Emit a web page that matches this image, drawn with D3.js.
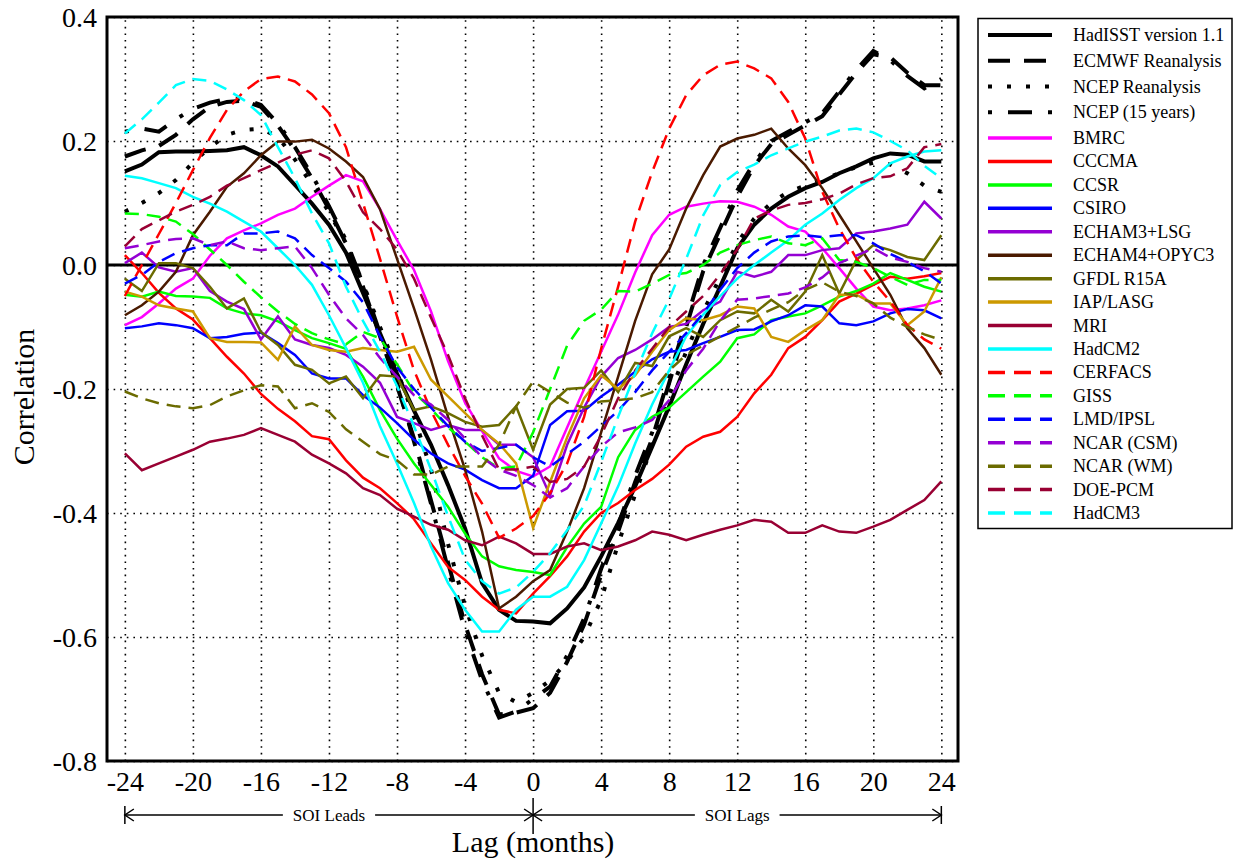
<!DOCTYPE html>
<html>
<head>
<meta charset="utf-8">
<script src="https://cdn.jsdelivr.net/npm/d3@7"></script>
<style>
  body { margin: 0; background: #fff; }
  svg text { font-family: "Liberation Serif", "Times New Roman", serif; fill: #000; }
</style>
</head>
<body>
<div id="chart"></div>
<script>
// lag in months, -24 .. 24
const lags = [-24,-23,-22,-21,-20,-19,-18,-17,-16,-15,-14,-13,-12,-11,-10,-9,-8,-7,-6,-5,-4,-3,-2,-1,0,
  1,2,3,4,5,6,7,8,9,10,11,12,13,14,15,16,17,18,19,20,21,22,23,24];

const xTicks = [-24,-20,-16,-12,-8,-4,0,4,8,12,16,20,24];
const yTicks = [-0.8,-0.6,-0.4,-0.2,0,0.2,0.4];

// observations
const hadisst = [0.151,0.162,0.182,0.183,0.183,0.184,0.185,0.190,0.177,0.159,0.129,0.099,0.065,0.020,-0.045,-0.110,-0.175,-0.235,-0.290,-0.355,-0.425,-0.513,-0.556,-0.574,-0.575,
  -0.578,-0.554,-0.520,-0.470,-0.416,-0.357,-0.293,-0.228,-0.160,-0.095,-0.035,0.027,0.065,0.091,0.110,0.124,0.134,0.148,0.159,0.172,0.180,0.178,0.167,0.167];
const ecmwf = [0.175,0.185,0.192,0.210,0.235,0.255,0.263,0.265,0.255,0.225,0.185,0.140,0.090,0.035,-0.035,-0.115,-0.195,-0.280,-0.380,-0.480,-0.580,-0.660,-0.725,-0.722,-0.715,
  -0.690,-0.640,-0.580,-0.500,-0.430,-0.350,-0.280,-0.190,-0.100,-0.010,0.050,0.110,0.160,0.195,0.210,0.225,0.240,0.275,0.310,0.340,0.335,0.310,0.290,0.290];
const ncep = [0.086,0.100,0.116,0.137,0.165,0.190,0.210,0.218,0.220,0.207,0.170,0.130,0.085,0.035,-0.030,-0.100,-0.170,-0.245,-0.330,-0.450,-0.550,-0.630,-0.690,-0.705,-0.690,
  -0.670,-0.640,-0.600,-0.540,-0.450,-0.370,-0.290,-0.210,-0.140,-0.075,-0.020,0.035,0.075,0.100,0.118,0.128,0.138,0.148,0.158,0.165,0.162,0.148,0.128,0.118];
const ncep15 = [0.215,0.220,0.215,0.235,0.252,0.262,0.268,0.268,0.258,0.228,0.190,0.145,0.095,0.040,-0.030,-0.110,-0.190,-0.285,-0.385,-0.490,-0.590,-0.670,-0.730,-0.720,-0.700,
  -0.680,-0.630,-0.570,-0.490,-0.420,-0.340,-0.270,-0.180,-0.090,0.000,0.060,0.120,0.165,0.200,0.215,0.230,0.245,0.280,0.315,0.345,0.330,0.305,0.285,0.300];

// models, solid
const bmrc = [-0.097,-0.084,-0.062,-0.038,-0.022,0.015,0.043,0.056,0.067,0.081,0.091,0.110,0.128,0.145,0.135,0.090,0.040,-0.008,-0.075,-0.155,-0.222,-0.268,-0.312,-0.332,-0.341,
  -0.325,-0.262,-0.200,-0.140,-0.080,-0.012,0.048,0.081,0.094,0.099,0.103,0.102,0.094,0.081,0.062,0.054,0.027,-0.005,-0.038,-0.067,-0.073,-0.070,-0.065,-0.057];
const cccma = [0.016,-0.013,-0.045,-0.070,-0.088,-0.118,-0.148,-0.175,-0.208,-0.232,-0.252,-0.276,-0.281,-0.315,-0.343,-0.360,-0.384,-0.410,-0.449,-0.487,-0.508,-0.535,-0.556,-0.562,-0.530,
  -0.502,-0.470,-0.430,-0.400,-0.384,-0.363,-0.345,-0.322,-0.293,-0.277,-0.269,-0.245,-0.207,-0.177,-0.134,-0.116,-0.089,-0.059,-0.046,-0.032,-0.019,-0.022,-0.018,-0.013];
const ccsr = [-0.048,-0.051,-0.043,-0.050,-0.051,-0.053,-0.070,-0.078,-0.081,-0.091,-0.105,-0.118,-0.126,-0.135,-0.180,-0.234,-0.280,-0.320,-0.355,-0.390,-0.433,-0.470,-0.486,-0.492,-0.495,
  -0.500,-0.455,-0.417,-0.390,-0.310,-0.266,-0.245,-0.230,-0.205,-0.180,-0.156,-0.118,-0.112,-0.089,-0.083,-0.078,-0.065,-0.051,-0.042,-0.030,-0.013,-0.024,-0.035,-0.043];
const csiro = [-0.102,-0.099,-0.094,-0.097,-0.102,-0.118,-0.116,-0.111,-0.109,-0.126,-0.145,-0.175,-0.183,-0.183,-0.210,-0.230,-0.255,-0.282,-0.304,-0.320,-0.330,-0.347,-0.360,-0.360,-0.340,
  -0.258,-0.236,-0.235,-0.212,-0.193,-0.172,-0.152,-0.140,-0.137,-0.126,-0.116,-0.105,-0.104,-0.091,-0.081,-0.065,-0.067,-0.094,-0.097,-0.091,-0.078,-0.071,-0.073,-0.086];
const echam3 = [0.003,0.020,-0.004,-0.011,-0.005,-0.042,-0.059,-0.071,-0.120,-0.083,-0.120,-0.129,-0.134,-0.145,-0.164,-0.190,-0.245,-0.255,-0.266,-0.258,-0.266,-0.266,-0.290,-0.290,-0.310,
  -0.372,-0.290,-0.230,-0.180,-0.150,-0.137,-0.120,-0.100,-0.095,-0.073,-0.059,-0.011,-0.019,-0.011,0.016,0.016,0.024,0.027,0.051,0.054,0.059,0.065,0.102,0.075];
const echam4 = [-0.081,-0.065,-0.043,-0.011,0.048,0.086,0.126,0.148,0.177,0.199,0.199,0.202,0.188,0.167,0.142,0.090,0.010,-0.070,-0.153,-0.245,-0.330,-0.430,-0.554,-0.535,-0.510,
  -0.492,-0.430,-0.360,-0.270,-0.180,-0.090,-0.015,0.025,0.091,0.145,0.191,0.204,0.210,0.220,0.188,0.161,0.124,0.081,0.038,-0.005,-0.048,-0.102,-0.134,-0.177];
const gfdl = [-0.022,-0.042,0.003,0.003,-0.005,-0.035,-0.070,-0.054,-0.108,-0.129,-0.161,-0.169,-0.191,-0.180,-0.215,-0.178,-0.180,-0.234,-0.228,-0.239,-0.253,-0.261,-0.258,-0.228,-0.298,
  -0.225,-0.200,-0.198,-0.170,-0.205,-0.158,-0.163,-0.115,-0.102,-0.116,-0.089,-0.075,-0.078,-0.056,-0.075,-0.043,0.016,-0.046,0.008,0.032,0.024,0.013,0.008,0.048];
const iap = [-0.043,-0.051,-0.065,-0.070,-0.075,-0.118,-0.124,-0.124,-0.125,-0.153,-0.099,-0.129,-0.137,-0.140,-0.134,-0.137,-0.140,-0.132,-0.185,-0.212,-0.239,-0.266,-0.288,-0.320,-0.424,
  -0.350,-0.278,-0.215,-0.178,-0.200,-0.178,-0.140,-0.105,-0.086,-0.089,-0.081,-0.067,-0.070,-0.116,-0.124,-0.105,-0.089,-0.048,-0.048,-0.062,-0.062,-0.097,-0.075,-0.020];
const mri = [-0.304,-0.331,-0.320,-0.309,-0.298,-0.285,-0.280,-0.274,-0.263,-0.274,-0.285,-0.306,-0.320,-0.336,-0.360,-0.371,-0.393,-0.406,-0.419,-0.427,-0.444,-0.452,-0.438,-0.449,-0.466,
  -0.466,-0.454,-0.449,-0.460,-0.454,-0.444,-0.430,-0.435,-0.444,-0.435,-0.427,-0.420,-0.411,-0.414,-0.432,-0.432,-0.420,-0.430,-0.432,-0.422,-0.411,-0.395,-0.379,-0.349];
const hadcm2 = [0.144,0.140,0.132,0.124,0.110,0.099,0.086,0.070,0.054,0.027,0.000,-0.032,-0.081,-0.134,-0.190,-0.260,-0.320,-0.384,-0.454,-0.513,-0.556,-0.591,-0.591,-0.556,-0.535,
  -0.535,-0.519,-0.476,-0.417,-0.357,-0.288,-0.225,-0.170,-0.115,-0.080,-0.050,-0.022,0.000,0.020,0.040,0.065,0.083,0.105,0.124,0.140,0.164,0.175,0.183,0.185];

// models, dashed
const cerfacs = [-0.050,0.000,0.050,0.100,0.153,0.205,0.250,0.280,0.300,0.304,0.296,0.275,0.245,0.190,0.100,0.010,-0.083,-0.170,-0.235,-0.290,-0.340,-0.385,-0.440,-0.425,-0.405,
  -0.368,-0.320,-0.245,-0.135,-0.035,0.070,0.150,0.220,0.274,0.306,0.323,0.328,0.317,0.301,0.263,0.204,0.118,0.059,0.011,-0.027,-0.059,-0.097,-0.120,-0.135];
const giss = [0.083,0.082,0.078,0.070,0.050,0.025,0.000,-0.027,-0.052,-0.075,-0.095,-0.110,-0.120,-0.128,-0.108,-0.118,-0.160,-0.205,-0.232,-0.262,-0.285,-0.310,-0.328,-0.325,-0.270,
  -0.200,-0.130,-0.090,-0.072,-0.042,-0.043,-0.030,-0.016,-0.013,0.000,0.020,0.032,0.040,0.046,0.035,0.032,0.043,0.008,0.005,-0.005,-0.019,-0.032,-0.024,-0.024];
const lmd = [-0.030,-0.016,0.005,0.019,0.027,0.032,0.032,0.051,0.051,0.054,0.043,0.016,-0.005,-0.027,-0.060,-0.115,-0.165,-0.200,-0.230,-0.260,-0.285,-0.300,-0.295,-0.290,-0.310,
  -0.325,-0.305,-0.285,-0.260,-0.235,-0.205,-0.170,-0.140,-0.110,-0.078,-0.040,-0.005,0.020,0.038,0.046,0.048,0.045,0.048,0.048,0.035,0.018,0.005,-0.010,-0.030];
const ncarCsm = [0.027,0.032,0.038,0.042,0.043,0.032,0.038,0.027,0.024,0.027,0.030,-0.005,-0.048,-0.086,-0.113,-0.150,-0.180,-0.210,-0.225,-0.250,-0.280,-0.310,-0.330,-0.340,-0.355,
  -0.375,-0.360,-0.325,-0.293,-0.270,-0.262,-0.250,-0.218,-0.170,-0.135,-0.090,-0.056,-0.054,-0.050,-0.046,-0.036,-0.020,0.003,0.015,0.027,0.012,0.005,-0.005,-0.011];
const ncarWm = [-0.204,-0.215,-0.223,-0.228,-0.231,-0.226,-0.212,-0.202,-0.194,-0.196,-0.231,-0.223,-0.237,-0.265,-0.285,-0.305,-0.315,-0.338,-0.338,-0.325,-0.325,-0.325,-0.290,-0.228,-0.188,
  -0.205,-0.222,-0.230,-0.220,-0.218,-0.215,-0.205,-0.170,-0.145,-0.130,-0.115,-0.100,-0.085,-0.072,-0.060,-0.040,-0.028,-0.043,-0.050,-0.062,-0.085,-0.100,-0.112,-0.121];
const doePcm = [0.030,0.058,0.072,0.086,0.097,0.110,0.128,0.140,0.153,0.165,0.178,0.185,0.172,0.135,0.085,0.058,0.025,-0.022,-0.085,-0.145,-0.215,-0.275,-0.330,-0.330,-0.325,
  -0.350,-0.345,-0.325,-0.275,-0.215,-0.170,-0.135,-0.100,-0.075,-0.050,-0.015,0.025,0.075,0.088,0.097,0.100,0.106,0.115,0.130,0.140,0.143,0.156,0.190,0.195];
const hadcm3 = [0.212,0.235,0.262,0.290,0.300,0.297,0.283,0.266,0.242,0.190,0.140,0.083,0.035,-0.035,-0.090,-0.140,-0.195,-0.260,-0.330,-0.405,-0.475,-0.510,-0.530,-0.520,-0.495,
  -0.465,-0.428,-0.388,-0.318,-0.245,-0.175,-0.110,-0.055,0.010,0.080,0.129,0.150,0.162,0.177,0.188,0.199,0.207,0.217,0.220,0.214,0.200,0.185,0.160,0.140];

const DASH = "14,8";
const series = [
  {name: "HadISST version 1.1", values: hadisst, color: "#000", width: 4, dash: null},
  {name: "ECMWF Reanalysis", values: ecmwf, color: "#000", width: 4, dash: "22,14"},
  {name: "NCEP Reanalysis", values: ncep, color: "#000", width: 4, dash: "4,15"},
  {name: "NCEP (15 years)", values: ncep15, color: "#000", width: 4, dash: "4,16,24,16"},
  {name: "BMRC", values: bmrc, color: "#ff00ff", width: 2.5, dash: null},
  {name: "CCCMA", values: cccma, color: "#ff0000", width: 2.5, dash: null},
  {name: "CCSR", values: ccsr, color: "#00ff00", width: 2.5, dash: null},
  {name: "CSIRO", values: csiro, color: "#0000ff", width: 2.5, dash: null},
  {name: "ECHAM3+LSG", values: echam3, color: "#9400d3", width: 2.5, dash: null},
  {name: "ECHAM4+OPYC3", values: echam4, color: "#4a1a00", width: 2.5, dash: null},
  {name: "GFDL R15A", values: gfdl, color: "#6b6b00", width: 2.5, dash: null},
  {name: "IAP/LASG", values: iap, color: "#cc9900", width: 2.5, dash: null},
  {name: "MRI", values: mri, color: "#990033", width: 2.5, dash: null},
  {name: "HadCM2", values: hadcm2, color: "#00ffff", width: 2.5, dash: null},
  {name: "CERFACS", values: cerfacs, color: "#ff0000", width: 2.5, dash: DASH},
  {name: "GISS", values: giss, color: "#00ff00", width: 2.5, dash: DASH},
  {name: "LMD/IPSL", values: lmd, color: "#0000ff", width: 2.5, dash: DASH},
  {name: "NCAR (CSM)", values: ncarCsm, color: "#9400d3", width: 2.5, dash: DASH},
  {name: "NCAR (WM)", values: ncarWm, color: "#6b6b00", width: 2.5, dash: DASH},
  {name: "DOE-PCM", values: doePcm, color: "#990033", width: 2.5, dash: DASH},
  {name: "HadCM3", values: hadcm3, color: "#00ffff", width: 2.5, dash: DASH}
];

const SERIF = '"Liberation Serif", "Times New Roman", serif';
const width = 1239, height = 865;
const plotL = 107, plotR = 958, plotT = 17, plotB = 761;

const svg = d3.select("#chart").append("svg")
  .attr("width", width)
  .attr("height", height);

const x = d3.scaleLinear().domain([-25.05, 24.98]).range([plotL, plotR]);
const y = d3.scaleLinear().domain([-0.8, 0.4]).range([plotB, plotT]);

// dotted grid
svg.append("g")
  .attr("transform", `translate(0,${plotB})`)
  .call(d3.axisBottom(x).tickValues(xTicks).tickSize(-(plotB - plotT)).tickFormat(""))
  .call(g => g.select(".domain").remove())
  .selectAll("line")
  .attr("stroke", "#000")
  .attr("stroke-width", 1.6)
  .attr("stroke-dasharray", "1.6,5");

svg.append("g")
  .attr("transform", `translate(${plotL},0)`)
  .call(d3.axisLeft(y).tickValues(yTicks).tickSize(-(plotR - plotL)).tickFormat(""))
  .call(g => g.select(".domain").remove())
  .selectAll("line")
  .attr("stroke", "#000")
  .attr("stroke-width", 1.6)
  .attr("stroke-dasharray", "1.6,5");

// zero line
svg.append("line")
  .attr("x1", plotL).attr("x2", plotR)
  .attr("y1", y(0)).attr("y2", y(0))
  .attr("stroke", "#000")
  .attr("stroke-width", 3);

const line = d3.line()
  .x((d, i) => x(lags[i]))
  .y(d => y(d));

svg.append("defs").append("clipPath").attr("id", "plotclip")
  .append("rect")
  .attr("x", plotL).attr("y", plotT)
  .attr("width", plotR - plotL).attr("height", plotB - plotT);

svg.append("g")
  .attr("clip-path", "url(#plotclip)")
  .selectAll("path")
  .data(series)
  .join("path")
  .attr("d", d => line(d.values))
  .attr("fill", "none")
  .attr("stroke", d => d.color)
  .attr("stroke-width", d => d.width)
  .attr("stroke-dasharray", d => d.dash);

// frame
svg.append("rect")
  .attr("x", plotL).attr("y", plotT)
  .attr("width", plotR - plotL).attr("height", plotB - plotT)
  .attr("fill", "none")
  .attr("stroke", "#000")
  .attr("stroke-width", 3);

// tick labels
const xAxis = svg.append("g")
  .attr("transform", `translate(0,${plotB})`)
  .call(d3.axisBottom(x).tickValues(xTicks).tickSize(0).tickPadding(10).tickFormat(d => String(d)));
xAxis.attr("font-family", null).attr("font-size", null);
xAxis.select(".domain").remove();
xAxis.selectAll("text")
  .style("font-family", SERIF)
  .style("font-size", "28px")
  .attr("dy", "0.71em");

const yAxis = svg.append("g")
  .attr("transform", `translate(${plotL},0)`)
  .call(d3.axisLeft(y).tickValues(yTicks).tickSize(0).tickPadding(10).tickFormat(d => d.toFixed(1)));
yAxis.attr("font-family", null).attr("font-size", null);
yAxis.select(".domain").remove();
yAxis.selectAll("text")
  .style("font-family", SERIF)
  .style("font-size", "28px")
  .attr("dy", "0.35em");

// axis titles
svg.append("text")
  .attr("transform", `translate(34,${(plotT + plotB) / 2 + 8}) rotate(-90)`)
  .attr("text-anchor", "middle")
  .attr("font-size", 30)
  .text("Correlation");

svg.append("text")
  .attr("x", x(0))
  .attr("y", 852)
  .attr("text-anchor", "middle")
  .attr("font-size", 30)
  .text("Lag (months)");

// SOI leads / lags arrows
const ay = 815;
const arrows = svg.append("g").attr("stroke", "#000").attr("stroke-width", 1.5).attr("fill", "none");
arrows.append("line").attr("x1", x(-24)).attr("x2", x(24)).attr("y1", ay).attr("y2", ay);
arrows.append("line").attr("x1", x(0)).attr("x2", x(0)).attr("y1", 798).attr("y2", 834);
[x(-24), x(24)].forEach(px => {
  arrows.append("line").attr("x1", px).attr("x2", px).attr("y1", ay - 9).attr("y2", ay + 9);
});
const head = (px, dir) => {
  arrows.append("path")
    .attr("d", `M${px + dir * 9},${ay - 6}L${px},${ay}L${px + dir * 9},${ay + 6}`);
};
head(x(-24), 1);
head(x(0), -1);
head(x(0), 1);
head(x(24), -1);

const soi = svg.append("g");
[{label: "SOI Leads", at: -12}, {label: "SOI Lags", at: 12}].forEach(d => {
  const g = soi.append("g");
  const r = g.append("rect").attr("fill", "#fff");
  const t = g.append("text")
    .attr("x", x(d.at))
    .attr("y", ay + 6)
    .attr("text-anchor", "middle")
    .attr("font-size", 17)
    .text(d.label);
  const b = t.node().getBBox();
  r.attr("x", b.x - 10).attr("y", ay - 4)
    .attr("width", b.width + 20).attr("height", 8);
});

// legend
const legend = svg.append("g");
legend.append("rect")
  .attr("x", 978).attr("y", 18.5)
  .attr("width", 254).attr("height", 510)
  .attr("fill", "#fff")
  .attr("stroke", "#000")
  .attr("stroke-width", 1.5);

const rowY = i => i <= 4 ? 35 + i * 25.75 : 138 + (i - 4) * 23.44;

const rows = legend.selectAll("g.row")
  .data(series)
  .join("g")
  .attr("class", "row")
  .attr("transform", (d, i) => `translate(0,${rowY(i)})`);

rows.append("line")
  .attr("x1", 988).attr("x2", 1052)
  .attr("y1", 0).attr("y2", 0)
  .attr("stroke", d => d.color)
  .attr("stroke-width", d => d.width === 4 ? 4 : 3.5)
  .attr("stroke-dasharray", d => d.dash === DASH ? "17,9" : d.dash);

rows.append("text")
  .attr("x", 1073)
  .attr("y", 6)
  .attr("font-size", 18)
  .text(d => d.name);
</script>
</body>
</html>
